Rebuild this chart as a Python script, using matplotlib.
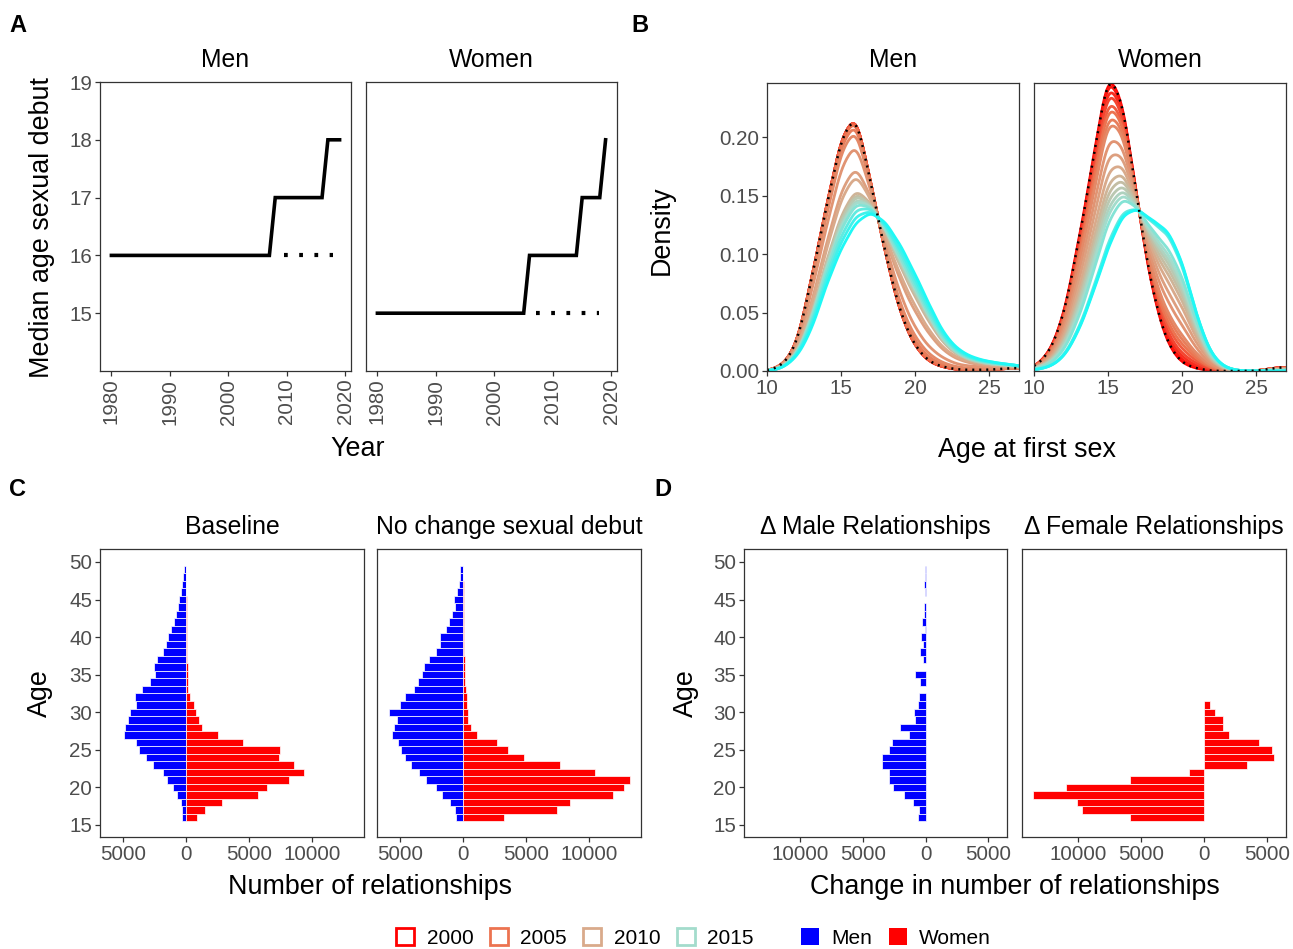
import numpy as np
import matplotlib
matplotlib.use("Agg")
import matplotlib.pyplot as plt
from matplotlib.colors import LinearSegmentedColormap, Normalize
from matplotlib.patches import Patch

plt.rcParams["font.family"] = ["Liberation Sans", "DejaVu Sans"]

# ---------------- A: median age at sexual debut
men_years = [1980, 2007, 2008, 2016, 2017, 2019]
men_median = [16, 16, 17, 17, 18, 18]
women_years = [1980, 2005, 2006, 2014, 2015, 2018, 2019]
women_median = [15, 15, 16, 16, 17, 17, 18]
# counterfactual (no change), dotted
men_nochange_years = [2009.5, 2017.8]
men_nochange = [16, 16]
women_nochange_years = [2007.1, 2017.8]
women_nochange = [15, 15]

# ---------------- B: share (per 1000) of age at first sex, ages 10..27, one row per year
debut_ages = list(range(10, 28))
density_years = list(range(2000, 2020))
men_share = [
    [0, 4, 20, 78, 140, 200, 225, 160, 100, 48, 20, 7, 3, 1, 1, 1, 2, 3],
    [0, 4, 20, 78, 140, 200, 225, 160, 100, 48, 20, 7, 3, 1, 1, 1, 2, 3],
    [0, 4, 20, 78, 140, 200, 225, 160, 100, 48, 20, 7, 3, 1, 1, 1, 2, 3],
    [0, 4, 20, 78, 140, 200, 225, 160, 100, 48, 20, 7, 3, 1, 1, 1, 2, 3],
    [0, 4, 20, 78, 140, 200, 225, 160, 100, 48, 20, 7, 3, 1, 1, 1, 2, 3],
    [0, 4, 20, 77, 139, 198, 223, 160, 101, 49, 21, 8, 4, 1, 1, 1, 2, 3],
    [0, 4, 19, 75, 136, 194, 219, 159, 102, 52, 24, 10, 5, 2, 2, 1, 2, 3],
    [0, 4, 19, 73, 132, 189, 213, 157, 103, 55, 28, 13, 6, 3, 2, 2, 2, 3],
    [0, 3, 18, 67, 123, 175, 200, 154, 107, 64, 36, 19, 10, 5, 4, 3, 3, 4],
    [0, 3, 16, 57, 109, 155, 179, 149, 113, 76, 50, 30, 16, 9, 6, 4, 4, 4],
    [0, 3, 15, 54, 104, 148, 172, 147, 115, 81, 55, 33, 18, 10, 7, 5, 4, 4],
    [0, 3, 14, 48, 94, 134, 158, 144, 119, 89, 63, 40, 22, 12, 8, 6, 5, 4],
    [0, 3, 14, 46, 92, 132, 155, 143, 120, 91, 65, 42, 22, 13, 8, 6, 5, 4],
    [0, 3, 13, 45, 91, 130, 153, 143, 121, 92, 67, 43, 23, 13, 8, 6, 5, 4],
    [0, 2, 13, 44, 89, 127, 150, 142, 122, 94, 69, 44, 24, 13, 9, 6, 5, 5],
    [0, 2, 13, 43, 88, 125, 148, 142, 122, 95, 70, 45, 24, 14, 9, 7, 5, 5],
    [0, 2, 13, 42, 86, 122, 145, 141, 123, 97, 72, 46, 25, 14, 9, 7, 5, 5],
    [0, 2, 12, 39, 82, 116, 140, 140, 125, 101, 75, 49, 27, 15, 10, 7, 6, 5],
    [0, 2, 12, 37, 78, 111, 134, 138, 126, 104, 79, 52, 28, 16, 10, 8, 6, 5],
    [0, 2, 11, 34, 74, 105, 128, 137, 128, 108, 83, 55, 30, 17, 11, 8, 6, 5],
]
women_share = [
    [3, 14, 45, 110, 180, 262, 232, 142, 66, 22, 6, 2, 0, 0, 0, 0, 2, 4],
    [3, 14, 44, 108, 178, 259, 230, 142, 67, 24, 8, 3, 0, 0, 0, 0, 2, 4],
    [3, 13, 43, 106, 174, 253, 227, 142, 69, 28, 11, 4, 1, 0, 0, 0, 2, 4],
    [3, 13, 42, 103, 170, 248, 223, 142, 72, 31, 14, 6, 1, 0, 0, 0, 2, 4],
    [3, 12, 40, 99, 164, 240, 218, 142, 75, 36, 18, 8, 2, 0, 0, 0, 2, 3],
    [3, 12, 39, 96, 160, 234, 215, 142, 77, 40, 22, 10, 2, 0, 0, 0, 2, 3],
    [3, 11, 37, 92, 154, 226, 210, 142, 80, 45, 26, 12, 3, 0, 0, 0, 2, 3],
    [2, 11, 36, 89, 149, 220, 206, 141, 83, 49, 30, 14, 3, 1, 0, 0, 1, 3],
    [2, 10, 32, 82, 138, 204, 196, 141, 89, 59, 39, 18, 4, 1, 0, 0, 1, 3],
    [2, 9, 29, 75, 128, 190, 187, 141, 95, 68, 47, 22, 6, 1, 0, 0, 1, 2],
    [2, 8, 26, 68, 118, 176, 179, 141, 100, 77, 55, 26, 7, 1, 0, 0, 1, 2],
    [2, 7, 24, 62, 110, 165, 172, 141, 104, 84, 61, 29, 7, 1, 0, 0, 1, 2],
    [2, 7, 22, 58, 104, 157, 167, 141, 108, 89, 66, 31, 8, 1, 0, 0, 1, 1],
    [2, 6, 21, 55, 99, 150, 162, 141, 111, 94, 70, 33, 9, 1, 0, 0, 1, 1],
    [2, 6, 19, 51, 94, 143, 158, 140, 113, 98, 74, 35, 9, 2, 0, 0, 0, 1],
    [1, 5, 18, 48, 90, 137, 154, 140, 116, 102, 77, 37, 10, 2, 0, 0, 0, 1],
    [1, 5, 16, 44, 84, 129, 150, 140, 119, 107, 82, 39, 10, 2, 0, 0, 0, 1],
    [1, 3, 12, 35, 70, 111, 138, 140, 126, 119, 92, 44, 12, 2, 0, 0, 0, 0],
    [1, 3, 11, 34, 68, 108, 136, 140, 127, 121, 94, 45, 12, 2, 0, 0, 0, 0],
    [1, 3, 11, 33, 67, 106, 135, 140, 128, 122, 95, 45, 12, 2, 0, 0, 0, 0],
]
men_share_nochange = [0, 4, 20, 78, 140, 200, 225, 160, 100, 48, 20, 7, 3, 1, 1, 1, 2, 3]
women_share_nochange = [3, 14, 45, 110, 180, 262, 232, 142, 66, 22, 6, 2, 0, 0, 0, 0, 2, 4]

# ---------------- C / D: relationships by age
rel_ages = list(range(16, 50))
base_men = [290, 290, 395, 684, 1052, 1473, 1841, 2630, 3156, 3761, 3998, 4918, 4866, 4629,
            4418, 3971, 4024, 3498, 2893, 2472, 2577, 2314, 1841, 1552, 1394, 1184, 920, 763,
            605, 526, 370, 290, 210, 158]
base_women = [842, 1499, 2814, 5707, 6391, 8153, 9337, 8521, 7390, 7443, 4497, 2525, 1289, 1026,
              790, 605, 290, 190, 150, 130, 120, 110, 100, 80, 60, 60, 50, 50, 40, 40, 30, 30, 20, 20]
nochange_men = [555, 635, 1032, 1666, 2142, 2910, 3465, 4100, 4629, 4946, 5131, 5634, 5475, 5237,
                5845, 4973, 4576, 3888, 3597, 3253, 3095, 2671, 2169, 1799, 1799, 1349, 1137, 846,
                635, 688, 503, 317, 265, 212]
nochange_women = [3253, 7459, 8464, 11903, 12749, 13199, 10448, 7671, 4867, 3571, 2698, 1111, 608,
                  370, 370, 291, 317, 212, 180, 160, 140, 120, 100, 90, 80, 70, 60, 50, 50, 50, 40,
                  40, 30, 30]
delta_men = [-581, -528, -1030, -1716, -2587, -2957, -2957, -3485, -3458, -2957, -2719, -1346, -2086,
             -845, -898, -634, -528, -10, -475, -818, -5, -185, -422, -185, -343, -26, -290, -106,
             -132, -5, -26, -106, -53, -79]
delta_women = [-5910, -9699, -10097, -13568, -10998, -5883, -1246, 3419, 5565, 5406, 4346, 1988, 1458,
               1511, 822, 450, 0, -20, -20, -30, -20, -20, -30, -30, -20, -10, -10, -10, -10, -10,
               -10, -10, -10, -10]

legend_years = [2000, 2005, 2010, 2015]

W, H = 1293, 949
fig = plt.figure(figsize=(W / 100, H / 100), dpi=100)

GREY = "#4D4D4D"
DARK = "#333333"
TICK = 14.8
STRIP = 17.8
TITLE = 19.4


def add_ax(l, r, t, b):
    return fig.add_axes([l / W, 1 - b / H, (r - l) / W, (b - t) / H])


def label(x, y, s, **kw):
    kw.setdefault("ha", "center")
    kw.setdefault("va", "center")
    fig.text(x / W, 1 - y / H, s, **kw)


def style(ax, left=True):
    for sp in ax.spines.values():
        sp.set_color(DARK)
        sp.set_linewidth(0.9)
    ax.tick_params(direction="out", length=3.5, width=0.9, color=DARK, labelcolor=GREY,
                   labelsize=TICK, left=left, labelleft=left, top=False, right=False, pad=2)


def kde(shares, grid, bw=0.6):
    a = np.array(debut_ages, dtype=float)[:, None]
    w = np.array(shares, dtype=float)[:, None] / 1000.0
    k = np.exp(-0.5 * ((grid[None, :] - a) / bw) ** 2) / (bw * np.sqrt(2 * np.pi))
    return (w * k).sum(axis=0)


# ---------------- panel A
for i, (l, r, yrs, med, nyrs, nmed, name) in enumerate([
        (100, 351, men_years, men_median, men_nochange_years, men_nochange, "Men"),
        (366, 617, women_years, women_median, women_nochange_years, women_nochange, "Women")]):
    ax = add_ax(l, r, 82, 371)
    ax.plot(yrs, med, color="black", lw=2.6, solid_joinstyle="miter")
    ax.plot(nyrs, nmed, color="black", lw=3, linestyle=(0, (0.9, 2.75)))
    ax.set_xlim(1978.05, 2020.95)
    ax.set_ylim(14, 19)
    ax.set_xticks([1980, 1990, 2000, 2010, 2020])
    ax.set_yticks([15, 16, 17, 18, 19])
    style(ax, left=(i == 0))
    ax.tick_params(axis="x", labelrotation=90)
    label((l + r) / 2, 60, name, fontsize=STRIP)
label(42, 227, "Median age sexual debut", fontsize=TITLE, rotation=90)
label(358, 449, "Year", fontsize=TITLE)

# ---------------- panel B
cmap = LinearSegmentedColormap.from_list(
    "debut", [(0, "#FF0000"), (0.25, "#EC7350"), (0.5, "#D9AA8A"), (0.75, "#A5DCCB"), (1, "#00FFFF")])
norm = Normalize(2000, 2020)
grid = np.linspace(10, 27, 500)
for i, (l, r, shares, nochange, name) in enumerate([
        (767, 1019, men_share, men_share_nochange, "Men"),
        (1034, 1286, women_share, women_share_nochange, "Women")]):
    ax = add_ax(l, r, 83, 371)
    for yr, row in zip(density_years, shares):
        ax.plot(grid, kde(row, grid), color=cmap(norm(yr)), lw=2.0)
    ax.plot(grid, kde(nochange, grid), color="black", lw=1.8, linestyle=(0, (0.8, 2.0)))
    ax.set_xlim(10, 27)
    ax.set_ylim(0, 0.2465)
    ax.set_xticks([10, 15, 20, 25])
    ax.set_yticks([0, 0.05, 0.10, 0.15, 0.20])
    ax.set_yticklabels(["0.00", "0.05", "0.10", "0.15", "0.20"])
    style(ax, left=(i == 0))
    label((l + r) / 2, 60, name, fontsize=STRIP)
label(662, 230, "Density", fontsize=TITLE, rotation=90)
label(1027, 450, "Age at first sex", fontsize=TITLE)

# ---------------- panel C
for i, (l, r, men, women, name) in enumerate([
        (100, 364, base_men, base_women, "Baseline"),
        (377, 641, nochange_men, nochange_women, "No change sexual debut")]):
    ax = add_ax(l, r, 549, 837)
    ax.barh(rel_ages, [-v for v in men], height=1, color="#0000FF", edgecolor="white", lw=0.5)
    ax.barh(rel_ages, women, height=1, color="#FF0000", edgecolor="white", lw=0.5)
    ax.set_xlim(-6820, 14100)
    ax.set_ylim(13.4, 51.73)
    ax.set_xticks([-5000, 0, 5000, 10000])
    ax.set_xticklabels(["5000", "0", "5000", "10000"])
    ax.set_yticks([15, 20, 25, 30, 35, 40, 45, 50])
    style(ax, left=(i == 0))
    label((l + r) / 2, 527, name, fontsize=STRIP)
label(40, 693, "Age", fontsize=TITLE, rotation=90)
label(370, 887, "Number of relationships", fontsize=TITLE)

# ---------------- panel D
for i, (l, r, vals, col, name) in enumerate([
        (744, 1007, delta_men, "#0000FF", "\u0394 Male Relationships"),
        (1022, 1286, delta_women, "#FF0000", "\u0394 Female Relationships")]):
    ax = add_ax(l, r, 549, 837)
    ax.barh(rel_ages, vals, height=1, color=col, edgecolor="white", lw=0.5)
    ax.set_xlim(-14480, 6480)
    ax.set_ylim(13.4, 51.73)
    ax.set_xticks([-10000, -5000, 0, 5000])
    ax.set_xticklabels(["10000", "5000", "0", "5000"])
    ax.set_yticks([15, 20, 25, 30, 35, 40, 45, 50])
    style(ax, left=(i == 0))
    label((l + r) / 2, 527, name, fontsize=STRIP)
label(686, 693, "Age", fontsize=TITLE, rotation=90)
label(1015, 887, "Change in number of relationships", fontsize=TITLE)

# panel letters
for x, y, s in [(18, 25, "A"), (640, 25, "B"), (18, 490, "C"), (663, 490, "D")]:
    label(x, y, s, fontsize=17, fontweight="bold")

# ---------------- legends
year_handles = [Patch(facecolor="white", edgecolor=cmap(norm(y)), lw=2) for y in legend_years]
fig.legend(year_handles, [str(y) for y in legend_years], loc="center",
           bbox_to_anchor=(575 / W, 1 - 938 / H), ncol=4, frameon=False, fontsize=15,
           handlelength=0.85, handleheight=0.85, handletextpad=0.6, columnspacing=0.8)
sex_handles = [Patch(facecolor="#0000FF", edgecolor="none"), Patch(facecolor="#FF0000", edgecolor="none")]
fig.legend(sex_handles, ["Men", "Women"], loc="center", bbox_to_anchor=(896 / W, 1 - 938 / H),
           ncol=2, frameon=False, fontsize=15, handlelength=0.85, handleheight=0.85,
           handletextpad=0.6, columnspacing=0.8)

fig.savefig("out.png", dpi=100)
